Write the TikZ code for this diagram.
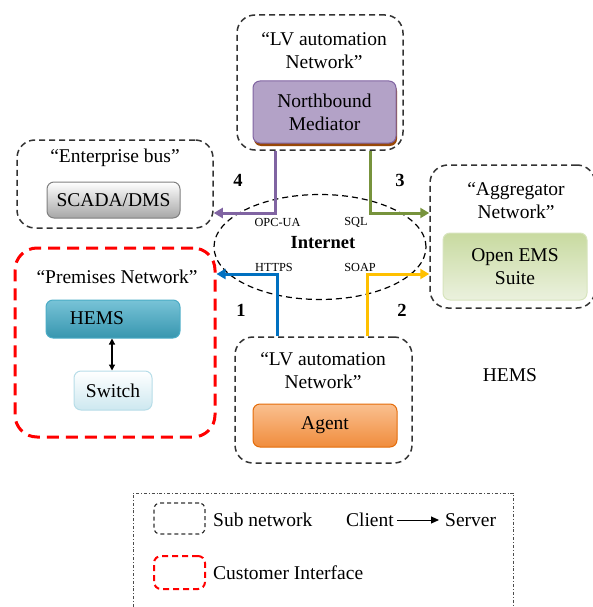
\documentclass[tikz,border=0pt]{standalone}
\usepackage{fontspec}
\setmainfont{Liberation Serif}
\usetikzlibrary{arrows.meta,shapes.geometric,calc}
\definecolor{cpurple}{HTML}{8064A2}
\definecolor{cgreen}{HTML}{77933C}
\definecolor{cblue}{HTML}{0070C0}
\definecolor{cyellow}{HTML}{FFC000}
\tikzset{
  subnet/.style={draw=black!80, dash pattern=on 6pt off 4pt, line width=1.5pt, rounded corners=18pt},
  custnet/.style={draw=red, dash pattern=on 12pt off 7pt, line width=3pt, rounded corners=22pt},
  lbl/.style={font=\fontsize{19.5}{23}\selectfont, align=center, inner sep=0pt},
  small/.style={font=\fontsize{12.3}{14}\selectfont, inner sep=0pt},
  num/.style={font=\bfseries\fontsize{18.5}{20}\selectfont, inner sep=0pt},
  comp/.style={rounded corners=7pt, line width=1pt, font=\fontsize{19.5}{23}\selectfont, align=center, inner sep=0pt},
  conn/.style={line width=3pt, -{Triangle[length=9pt,width=10pt]}},
}
\begin{document}
\begin{tikzpicture}[x=1pt,y=-1pt]
\useasboundingbox (0,0) rectangle (593,607);
% containers
\node[subnet, minimum width=166pt, minimum height=135pt] (lvt) at (320,82.5) {};
\node[subnet, minimum width=177pt, minimum height=126pt] (lvb) at (323.5,400) {};
\node[subnet, minimum width=196pt, minimum height=88pt] (ent) at (115,184) {};
\node[subnet, minimum width=165pt, minimum height=143pt] (agg) at (512.5,236.5) {};
\node[custnet, minimum width=200pt, minimum height=189pt] (prem) at (115,342.5) {};
\node[draw=black, dash pattern=on 6pt off 4pt, line width=1.2pt, minimum width=212pt, minimum height=105pt, ellipse] (inet) at (320,247) {};
% container titles
\node[lbl] (tlvt) at (324,51) {“LV automation\\Network”};
\node[lbl] (tlvb) at (323,371) {“LV automation\\Network”};
\node[lbl] (tent) at (115,158) {“Enterprise bus”};
\node[lbl] (tagg) at (516,201) {“Aggregator\\Network”};
\node[lbl] (tprem) at (117,277) {“Premises Network”};
% components
\fill[rounded corners=7pt, fill={rgb,255:red,152;green,72;blue,7}] (254,84) rectangle (397,146);
\node[comp, draw=cpurple, fill={rgb,255:red,179;green,162;blue,199}, minimum width=143pt, minimum height=62pt] (med) at (324.5,112) {Northbound\\Mediator};
\node[comp, draw=black!50, top color=white, bottom color=black!35, minimum width=133pt, minimum height=36pt] (scada) at (113.5,200) {SCADA/DMS};
\node[comp, draw={rgb,255:red,215;green,228;blue,189}, top color={rgb,255:red,200;green,218;blue,160}, bottom color={rgb,255:red,235;green,241;blue,222}, minimum width=144pt, minimum height=67pt] (ems) at (515,266.5) {Open EMS\\Suite};
\node[comp, draw={rgb,255:red,75;green,172;blue,198}, top color={rgb,255:red,120;green,195;blue,215}, bottom color={rgb,255:red,55;green,150;blue,175}, minimum width=134pt, minimum height=38pt] (hems) at (113,319) {};
\node[lbl] (hemst) at (97,318) {HEMS};
\node[comp, draw={rgb,255:red,183;green,221;blue,232}, top color=white, bottom color={rgb,255:red,205;green,232;blue,240}, minimum width=78pt, minimum height=39pt] (sw) at (113,390.5) {Switch};
\node[comp, draw={rgb,255:red,228;green,108;blue,10}, top color={rgb,255:red,250;green,192;blue,144}, bottom color={rgb,255:red,240;green,140;blue,60}, minimum width=144pt, minimum height=43pt] (agent) at (325,425.5) {Agent};
\draw[line width=1.2pt, {Triangle[length=6pt,width=6pt]}-{Triangle[length=6pt,width=6pt]}] (hems.south -| 112,0) -- (sw.north -| 112,0);
% internet labels
\node[font=\bfseries\fontsize{18.5}{20}\selectfont, inner sep=0pt] (inett) at (323,243) {Internet};
\node[small] (opc) at (277.5,222) {OPC-UA};
\node[small] (sql) at (356,222) {SQL};
\node[small] (https) at (274,267) {HTTPS};
\node[small] (soap) at (360,267) {SOAP};
\node[num] (n4) at (238,180) {4};
\node[num] (n3) at (400,180) {3};
\node[num] (n1) at (241,310) {1};
\node[num] (n2) at (402,310) {2};
\node[lbl] (hemsx) at (510,375) {HEMS};
% connectors
\coordinate (p4) at (275,213);
\coordinate (p3) at (370,213);
\coordinate (p1) at (277,274);
\coordinate (p2) at (367,274);
\draw[conn, cpurple] (lvt.south -| p4) -- (p4) -- (ent.east |- p4);
\draw[conn, cgreen] (lvt.south -| p3) -- (p3) -- (agg.west |- p3);
\draw[conn, cblue] (lvb.north -| p1) -- (p1) -- (prem.east |- p1);
\draw[conn, cyellow] (lvb.north -| p2) -- (p2) -- (agg.west |- p2);
% legend
\draw[black!70, dash pattern=on 3pt off 2pt on 0.8pt off 2pt, line width=0.7pt] (133,607) -- (133,493) -- (513,493) -- (513,607);
\node[draw=black!80, dash pattern=on 4pt off 3pt, line width=1.2pt, rounded corners=6pt, minimum width=51pt, minimum height=31pt] (lsub) at (179.5,518.5) {};
\node[draw=red, dash pattern=on 6pt off 4pt, line width=2pt, rounded corners=7pt, minimum width=51pt, minimum height=33pt] (lcust) at (179.5,572.5) {};
\node[lbl, anchor=west] (tsub) at (213,520) {Sub network};
\node[lbl, anchor=west] (tcust) at (213,573) {Customer Interface};
\node[lbl, anchor=east] (client) at (394,520) {Client};
\node[lbl, anchor=west] (server) at (445,520) {Server};
\draw[line width=1pt, -{Triangle[length=8pt,width=7pt]}] (client.east) ++(3pt,0) -- ($(server.west)+(-6pt,0)$);
\end{tikzpicture}
\end{document}
